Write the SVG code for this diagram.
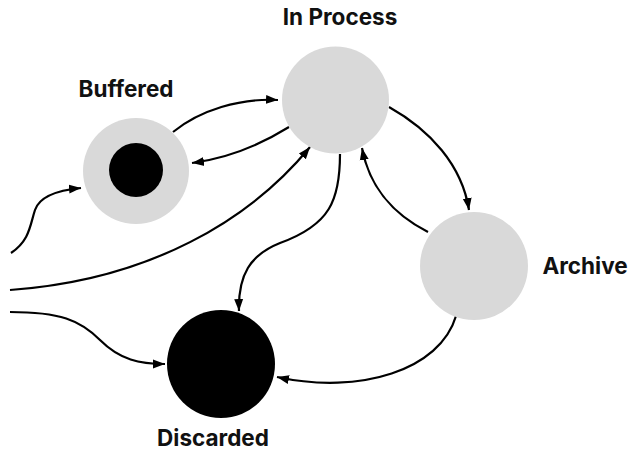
<svg xmlns="http://www.w3.org/2000/svg" width="635" height="450" viewBox="0 0 635 450">
<style>
.lbl{font-family:Inter,"Liberation Sans",sans-serif;font-weight:700;font-size:22.5px;fill:#111;text-anchor:middle}
.gray{fill:#d9d9d9}
.blk{fill:#000}
.e{fill:none;stroke:#000;stroke-width:2.2;marker-end:url(#ah)}
</style>
<defs>
<marker id="ah" markerUnits="userSpaceOnUse" markerWidth="13" markerHeight="11" refX="12" refY="5.5" orient="auto">
<path d="M0,1 L12,5.5 L0,10 z" fill="#000"/>
</marker>
</defs>
<rect width="635" height="450" fill="#fff"/>
<g id="edges">
<path class="e" d="M173,132 C200,110 240,98 278,100"/>
<path class="e" d="M289,127 C260,145 230,158 192,163"/>
<path class="e" d="M11,253 C30,240 30,225 35,210 C40,195 60,190 81,188"/>
<path class="e" d="M10,290 C150,280 250,220 310,147"/>
<path class="e" d="M340,154 C340,200 330,225 280,243 C250,255 238,275 239,311"/>
<path class="e" d="M428,232 C395,215 370,190 362,148"/>
<path class="e" d="M389,107 C430,130 462,165 469,210"/>
<path class="e" d="M10,312 C60,312 80,320 100,340 C120,360 140,364 165,364"/>
<path class="e" d="M456,316 C440,370 360,395 277,377"/>
</g>
<g id="buffered">
<circle class="gray" cx="136" cy="171" r="53"/>
<circle class="blk" cx="136" cy="170" r="27"/>
<text class="lbl" x="126" y="97">Buffered</text>
</g>
<g id="inprocess">
<circle class="gray" cx="335.5" cy="100" r="53.5"/>
<text class="lbl" x="340" y="25">In Process</text>
</g>
<g id="archive">
<circle class="gray" cx="474" cy="266" r="54"/>
<text class="lbl" x="585" y="274">Archive</text>
</g>
<g id="discarded">
<circle class="blk" cx="221" cy="364" r="54"/>
<text class="lbl" x="213" y="446">Discarded</text>
</g>
</svg>
